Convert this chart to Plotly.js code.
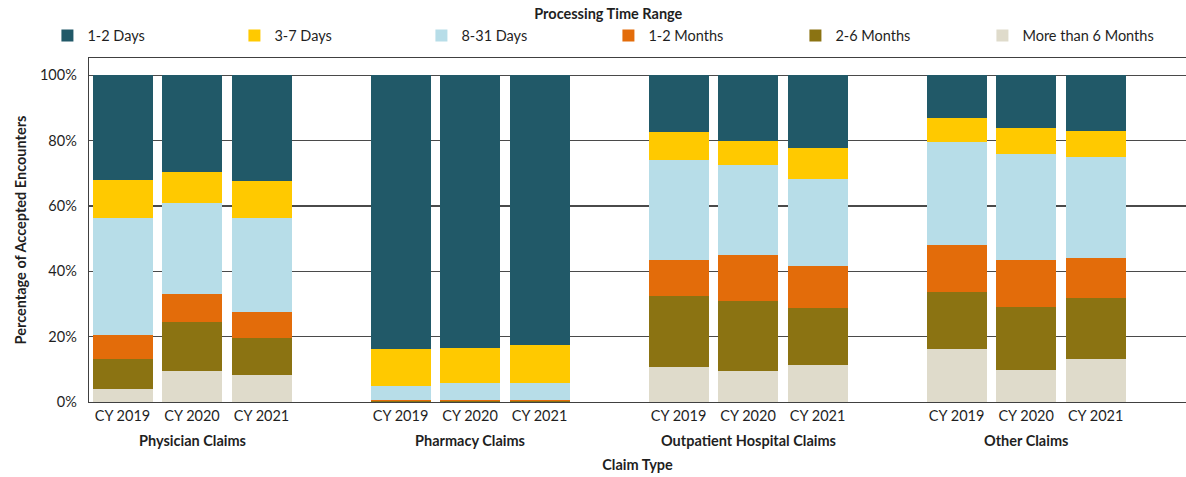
<!DOCTYPE html>
<html>
<head>
<meta charset="utf-8">
<script src="https://cdn.plot.ly/plotly-3.0.1.min.js"></script>
<style>
  html, body { margin: 0; padding: 0; background: #ffffff; }
  #chart { width: 1186px; height: 477px; }
</style>
</head>
<body>
<div id="chart"></div>
<script>
// ---- Data ----
const claimTypes = ["Physician Claims", "Pharmacy Claims", "Outpatient Hospital Claims", "Other Claims"];
const years = ["CY 2019", "CY 2020", "CY 2021"];
const rangeNames = ["1-2 Days", "3-7 Days", "8-31 Days", "1-2 Months", "2-6 Months", "More than 6 Months"];

// Percent of accepted encounters, order: claim type x year
const days1to2    = [31.9, 29.5, 32.5, 83.8, 83.4, 82.5, 17.3, 20.0, 22.4, 13.2, 16.1, 17.0];
const days3to7    = [11.8,  9.7, 11.2, 11.3, 10.7, 11.6,  8.5,  7.5,  9.3,  7.1,  7.9,  7.9];
const days8to31   = [35.9, 27.8, 28.8,  4.3,  5.3,  5.3, 30.8, 27.5, 26.7, 31.7, 32.6, 30.9];
const months1to2  = [ 7.2,  8.5,  7.9,  0.4,  0.4,  0.4, 10.9, 14.1, 12.9, 14.2, 14.3, 12.5];
const months2to6  = [ 9.2, 15.0, 11.4,  0.1,  0.1,  0.1, 21.7, 21.4, 17.4, 17.6, 19.2, 18.5];
const months6plus = [ 4.0,  9.5,  8.2,  0.1,  0.1,  0.1, 10.8,  9.5, 11.3, 16.2,  9.9, 13.2];

const seriesValues = [days1to2, days3to7, days8to31, months1to2, months2to6, months6plus];
const seriesColors = ["#215968", "#FFC900", "#B7DDE8", "#E36C0A", "#8B7312", "#DFDBCB"];

const yTickVals = [0, 20, 40, 60, 80, 100];

// ---- Build categories ----
const barKeys = [];
const barYears = [];
claimTypes.forEach(ct => years.forEach(y => { barKeys.push(ct + " | " + y); barYears.push(y); }));

// category order with one empty slot between claim types
const categoryOrder = [];
claimTypes.forEach((ct, i) => {
  years.forEach(y => categoryOrder.push(ct + " | " + y));
  if (i < claimTypes.length - 1) categoryOrder.push("gap " + i);
});

const FONT = "Lato, 'Open Sans', sans-serif";
const TXT = "#1f1f1f";

// traces from bottom (More than 6 Months) to top (1-2 Days)
const traces = [];
for (let s = rangeNames.length - 1; s >= 0; s--) {
  traces.push({
    type: "bar",
    name: rangeNames[s],
    x: barKeys,
    y: seriesValues[s],
    marker: { color: seriesColors[s], line: { width: 0 } },
    hovertemplate: "%{x}<br>" + rangeNames[s] + ": %{y:.1f}%<extra></extra>"
  });
}

const annotations = claimTypes.map(ct => ({
  x: ct + " | " + years[1],
  xref: "x",
  y: 0,
  yref: "paper",
  yanchor: "top",
  yshift: -28,
  showarrow: false,
  text: "<b>" + ct + "</b>",
  font: { family: FONT, size: 14.5, color: TXT }
}));

const layout = {
  width: 1186,
  height: 477,
  margin: { l: 89, r: 0, t: 57.5, b: 74.5 },
  paper_bgcolor: "#ffffff",
  plot_bgcolor: "#ffffff",
  barmode: "stack",
  bargap: 0.137,
  font: { family: FONT, size: 14.5, color: TXT },
  showlegend: true,
  legend: {
    orientation: "h",
    traceorder: "reversed",
    x: -0.0379,
    xanchor: "left",
    y: 1.1667,
    yanchor: "top",
    entrywidth: 142,
    entrywidthmode: "pixels",
    font: { family: FONT, size: 14.5, color: TXT },
    title: { text: "<b>Processing Time Range</b>", side: "top center", font: { family: FONT, size: 14.5, color: TXT } },
    bgcolor: "rgba(0,0,0,0)"
  },
  xaxis: {
    type: "category",
    categoryorder: "array",
    categoryarray: categoryOrder,
    range: [-0.482, 15.3],
    tickmode: "array",
    tickvals: barKeys,
    ticktext: barYears,
    ticks: "",
    showgrid: false,
    showline: true,
    mirror: true,
    linecolor: "#404040",
    linewidth: 1.3,
    tickfont: { family: FONT, size: 14.5, color: TXT },
    automargin: false,
    title: { text: "<b>Claim Type</b>", standoff: 37, font: { family: FONT, size: 14.5, color: TXT } }
  },
  yaxis: {
    range: [0, 105.3],
    tickmode: "array",
    tickvals: yTickVals,
    ticktext: yTickVals.map(v => v + "%"),
    ticks: "",
    ticklabelstandoff: 8,
    showgrid: true,
    gridcolor: "#4a4a4a",
    gridwidth: 1.3,
    zeroline: false,
    showline: true,
    linecolor: "#404040",
    linewidth: 1.3,
    tickfont: { family: FONT, size: 14.5, color: TXT },
    automargin: false,
    title: { text: "<b>Percentage of Accepted Encounters</b>", standoff: 10, font: { family: FONT, size: 14.5, color: TXT } }
  },
  annotations: annotations
};

Plotly.newPlot("chart", traces, layout, { displayModeBar: false, staticPlot: true });
</script>
</body>
</html>
